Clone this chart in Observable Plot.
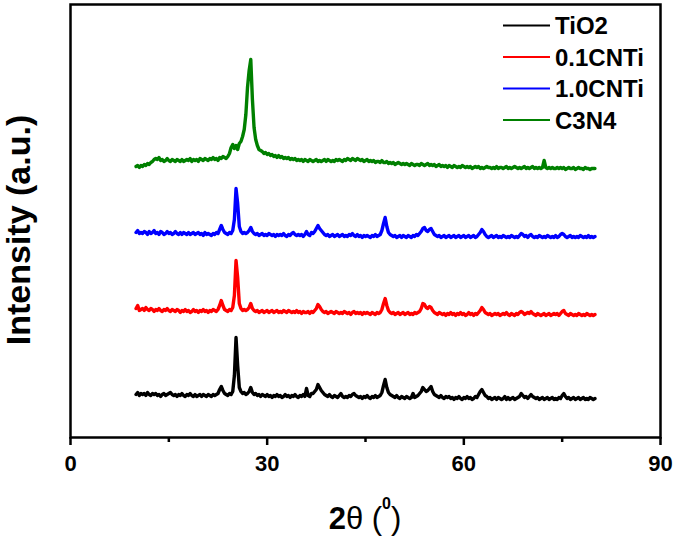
<!DOCTYPE html>
<html><head><meta charset="utf-8">
<script src="https://cdn.jsdelivr.net/npm/d3@7"></script>
<script src="https://cdn.jsdelivr.net/npm/@observablehq/plot@0.6"></script>
<style>body{margin:0;background:#fff;}</style>
</head><body><div id="chart"></div>
<script>
const seriesNames = ["TiO2", "0.1CNTi", "1.0CNTi", "C3N4"];
const seriesColors = ["#000000", "#ff0000", "#0000ff", "#008000"];
const offsets = [38, 122, 200, 268];
const xTicks = [0, 30, 60, 90];
const xMinorTicks = [15, 45, 75];
// 2θ sampling grid: 10° to 80° in 0.25° steps
const twoTheta = d3.range(281).map(i => 10 + i * 0.25);

const tio2 = [
5,7,4,6, 5,6,4,7, 5,4,6,5, 6,4,5,3, 5,6,4,5, 6,7,5,4, 5,3,5,4, 6,4,3,5, 4,6,4,3, 5,3,4,5,
3,5,4,3, 5,4,3,5, 4,5,6,10, 13,9,6,5, 4,6,5,8, 24,62,34,12, 8,6,7,5, 6,8,12,7, 5,6,4,5, 3,5,4,3,
5,3,4,2, 4,3,5,3, 4,2,3,5, 3,4,2,4, 3,5,3,2, 4,3,5,3, 11,4,3,6, 6,8,10,15, 12,9,7,5, 4,3,5,3,
2,4,3,2, 4,6,3,2, 3,2,4,3, 5,6,4,3, 2,3,1,3, 2,4,2,1, 3,2,4,2, 3,4,7,14, 20,12,7,5, 4,3,2,4,
2,1,3,2, 1,3,2,1, 2,6,2,3, 4,6,8,12, 10,8,9,11, 13,8,5,4, 3,2,4,2, 1,3,2,3, 1,2,0,2, 1,3,1,0,
2,1,3,1, 2,0,1,3, 2,5,8,10, 7,4,3,1, 2,0,1,2, 0,2,1,0, 1,3,0,2, 0,1,2,0, 1,2,3,6, 4,2,3,1,
3,5,3,2, 1,2,0,1, 2,0,1,2, 0,1,2,0, 1,0,2,1, 4,6,3,1, 2,0,1,2, 0,1,2,0, 1,2,0,1, 0,2,1,0,
1];

const cnti01 = [
7,10,5,6, 7,5,8,6, 5,7,6,4, 6,5,7,5, 4,6,5,7, 5,4,6,5, 4,6,5,3, 5,4,6,4, 5,3,4,6, 4,5,3,5,
4,6,4,5, 3,5,4,6, 5,4,6,10, 15,10,6,5, 4,6,5,8, 20,55,38,12, 7,5,6,5, 6,8,12,7, 5,4,5,3, 4,5,3,4,
5,3,4,5, 3,4,5,3, 4,3,5,4, 3,5,4,3, 4,3,5,3, 4,2,4,3, 3,4,2,4, 3,5,7,11, 9,6,4,3, 4,2,3,4,
3,2,4,3, 2,3,2,4, 3,2,3,1, 3,4,2,3, 2,3,1,3, 2,3,2,1, 3,2,1,3, 2,3,6,12, 17,10,5,3, 2,3,1,2,
3,1,2,3, 1,2,3,1, 2,1,3,2, 3,4,7,12, 11,8,7,9, 8,5,3,2, 1,3,2,1, 2,0,2,1, 3,1,2,0, 2,1,3,1,
2,0,1,3, 1,2,0,2, 1,3,5,8, 6,3,2,1, 2,0,1,2, 1,2,0,1, 2,1,3,1, 0,2,1,0, 2,1,3,4, 3,1,2,3,
2,4,2,1, 0,2,1,0, 1,2,0,1, 2,0,1,2, 1,2,0,2, 4,5,2,1, 0,2,1,0, 1,0,2,1, 0,1,0,2, 1,0,1,0,
1];

const cnti10 = [
5,7,4,5, 4,6,5,3, 6,4,5,7, 4,5,3,6, 5,3,4,6, 4,5,3,4, 6,4,3,5, 3,5,4,3, 5,3,4,5, 3,4,5,3,
4,2,5,3, 4,3,2,4, 3,5,4,8, 12,8,5,4, 3,5,4,7, 18,49,34,11, 6,4,5,4, 5,7,10,6, 4,3,4,2, 3,4,2,3,
2,4,3,2, 3,1,3,2, 3,2,4,2, 1,3,2,4, 5,3,2,3, 2,3,1,3, 6,3,2,5, 4,6,9,12, 9,7,5,3, 2,3,1,2,
3,1,2,3, 1,2,3,1, 2,1,3,2, 4,2,1,3, 1,2,0,2, 1,2,1,0, 2,1,3,1, 2,3,7,14, 20,11,5,3, 2,1,2,0,
1,2,0,2, 1,0,2,1, 0,2,1,3, 2,4,6,9, 10,7,6,8, 9,6,3,2, 1,2,0,1, 2,0,1,2, 0,1,2,0, 1,2,0,1,
2,0,1,2, 0,1,2,0, 1,3,5,8, 6,3,1,0, 1,2,0,1, 2,0,1,0, 2,1,0,1, 0,2,1,0, 1,0,2,4, 3,1,2,0,
2,3,1,0, 1,0,2,1, 0,1,0,2, 1,0,1,0, 2,0,1,3, 4,3,1,0, 1,2,0,1, 0,1,0,2, 1,0,1,0, 2,0,1,0,
1];

const c3n4 = [
3,4,2,4, 3,5,4,6, 5,7,8,10, 11,10,12,9, 10,8,9,11, 9,8,10,9, 8,10,9,8, 10,8,9,10, 9,11,8,10, 9,10,8,11,
10,9,11,10, 9,11,10,12, 10,11,9,12, 11,13,12,11, 13,16,22,25, 21,24,20,26, 28,33,40,55, 82,99,110,70, 42,30,24,20, 19,18,16,17,
15,16,14,15, 13,14,12,14, 12,13,11,12, 11,12,10,11, 10,11,9,10, 9,10,8,10, 9,8,10,9, 8,9,10,8, 9,8,9,10, 8,10,9,8,
9,8,10,9, 10,9,8,10, 9,11,10,9, 11,10,9,11, 10,9,10,8, 9,10,8,9, 8,9,7,8, 8,7,9,7, 7,8,6,7, 6,7,5,6,
7,6,5,6, 5,6,5,4, 6,5,4,5, 5,4,6,5, 4,5,6,4, 5,4,5,3, 4,5,3,4, 3,4,2,4, 3,2,4,3, 2,3,2,4,
3,2,3,2, 3,1,2,3, 2,3,1,2, 1,2,3,2, 2,1,2,1, 3,1,2,2, 1,2,3,1, 2,1,2,3, 2,1,2,1, 2,3,1,2,
1,2,3,1, 2,1,2,1, 2,9,2,1, 2,1,2,1, 1,2,1,2, 1,2,0,1, 2,1,1,2, 0,1,2,1, 1,0,2,1, 1,0,1,1,
1];

const seriesValues = [tio2, cnti01, cnti10, c3n4];
const rows = [];
seriesValues.forEach((vals, k) => vals.forEach((v, i) => {
  rows.push({x: twoTheta[i], y: offsets[k] + v, series: seriesNames[k]});
}));

const font = "'Liberation Sans', Arial, Helvetica, sans-serif";
const plot = Plot.plot({
  width: 675, height: 538,
  marginLeft: 70, marginRight: 15, marginTop: 4, marginBottom: 101,
  x: {domain: [0, 90]},
  y: {domain: [0, 433], axis: null},
  color: {domain: seriesNames, range: seriesColors},
  style: {fontFamily: font, background: "#fff", color: "#000"},
  marks: [
    Plot.line(rows, {x: "x", y: "y", z: "series", stroke: "series", strokeWidth: 3.4, strokeLinejoin: "round"}),
    Plot.frame({stroke: "#000", strokeWidth: 2.5}),
    Plot.axisX({ticks: xTicks, tickSize: 8, tickPadding: 10, strokeWidth: 2.5, fontSize: 22, fontWeight: "bold", label: null, tickFormat: d => String(d)}),
    Plot.axisX({ticks: xMinorTicks, tickSize: 5, strokeWidth: 2.5, label: null, tickFormat: () => ""})
  ]
});
document.getElementById("chart").appendChild(plot);

const svg = d3.select(plot);
// x-axis label
const xl = svg.append("text").attr("x", 365).attr("y", 529).attr("text-anchor", "middle")
  .attr("font-size", 31).attr("font-family", font).attr("fill", "#000");
xl.append("tspan").attr("font-weight", "bold").text("2");
xl.append("tspan").text("θ (");
xl.append("tspan").attr("font-size", 16).attr("font-weight", "bold").attr("dy", -20).text("0");
xl.append("tspan").attr("dy", 20).text(")");
// y-axis label
svg.append("text").attr("transform", "translate(30,230) rotate(-90)").attr("text-anchor", "middle")
  .attr("font-size", 34).attr("font-weight", "bold").attr("font-family", font).attr("fill", "#000")
  .text("Intensity (a.u.)");
// legend
seriesNames.forEach((name, i) => {
  const yc = 25.5 + 31.5 * i;
  svg.append("line").attr("x1", 503).attr("x2", 550).attr("y1", yc).attr("y2", yc)
    .attr("stroke", seriesColors[i]).attr("stroke-width", 2);
  svg.append("text").attr("x", 555).attr("y", yc).attr("dy", "0.36em").attr("text-anchor", "start")
    .attr("font-size", 24).attr("font-weight", "bold").attr("font-family", font).attr("fill", "#000")
    .text(name);
});
</script>
</body></html>
